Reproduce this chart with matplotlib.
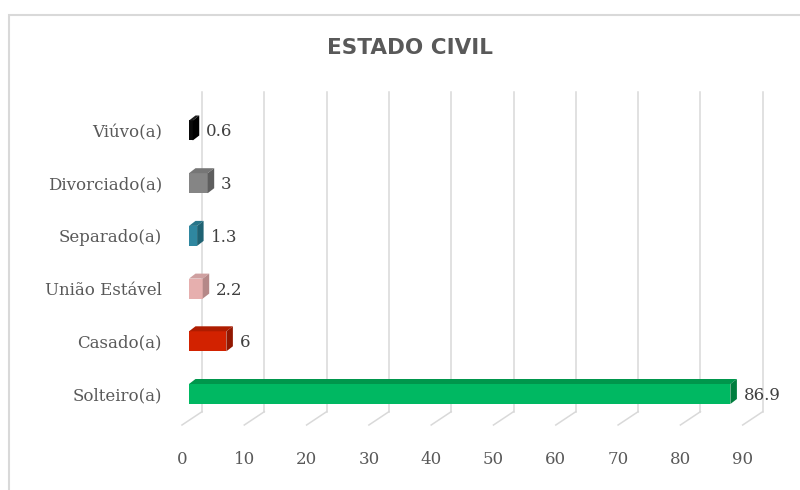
import matplotlib
matplotlib.use("Agg")
import matplotlib.pyplot as plt
from matplotlib.patches import Polygon, Rectangle

# ---- data ----
categories = ["Solteiro(a)", "Casado(a)", "União Estável", "Separado(a)", "Divorciado(a)", "Viúvo(a)"]
values = [86.9, 6, 2.2, 1.3, 3, 0.6]
value_labels = ["86.9", "6", "2.2", "1.3", "3", "0.6"]
front_colors = ["#00B862", "#D22200", "#E6AFAE", "#2F87A0", "#858585", "#0A0A0A"]
top_colors = ["#00964C", "#AE1C00", "#CFA0A0", "#287589", "#767676", "#1E1E1E"]
side_colors = ["#007E3E", "#921700", "#B58888", "#1F6273", "#5E5E5E", "#000000"]
xticks = [0, 10, 20, 30, 40, 50, 60, 70, 80, 90]
title = "ESTADO CIVIL"

# ---- layout (pixels) ----
DPI = 100
W, H = 800, 490
PPU = 6.23          # pixels per unit on x
X0 = 189            # bar front plane, x = 0
SP = 52.7           # category spacing
Y0 = H - 394        # centre of first category (from bottom)
AX_B = H - 425      # floor front edge
AX_T = H - 92       # top of wall gridlines
WALL_B = H - 411.7  # bottom of back wall
XMAX = 95

fig = plt.figure(figsize=(W / DPI, H / DPI), dpi=DPI)
fig.patch.set_facecolor("white")
ax = fig.add_axes([X0 / W, AX_B / H, XMAX * PPU / W, (AX_T - AX_B) / H])
ax.set_xlim(0, XMAX)
ax.set_ylim((AX_B - Y0) / SP, (AX_T - Y0) / SP)
for s in ax.spines.values():
    s.set_visible(False)
ax.set_facecolor("none")

def ydata(p):
    return (p - Y0) / SP

WALL_DX = 13 / PPU     # wall is 13 px right of bar front plane
FLOOR_DX = -7 / PPU    # floor front edge 7 px left of bar front plane
DX = 6.5 / PPU         # bar depth in x
DY = 5.0 / SP          # bar depth in y
BH = 20 / SP           # bar front height

grid_c = "#D9D9D9"
for v in xticks:
    ax.plot([v + WALL_DX, v + WALL_DX], [ydata(WALL_B), ydata(AX_T)], color=grid_c, lw=1.1, zorder=1, clip_on=False)
    ax.plot([v + WALL_DX, v + FLOOR_DX], [ydata(WALL_B), ydata(AX_B)], color=grid_c, lw=1.1, zorder=1, clip_on=False)
    ax.text(v + FLOOR_DX, ydata(H - 459), str(v), ha="center", va="center",
            fontsize=12, color="#595959", family="DejaVu Serif")

ypos = list(range(len(categories)))
ax.barh(ypos, values, height=BH, left=0, color=front_colors, zorder=3)
for i, v in enumerate(values):
    t = i + BH / 2
    b = i - BH / 2
    ax.add_patch(Polygon([(0, t), (v, t), (v + DX, t + DY), (DX, t + DY)], closed=True,
                         facecolor=top_colors[i], edgecolor="none", zorder=3))
    ax.add_patch(Polygon([(v, b), (v + DX, b + DY), (v + DX, t + DY), (v, t)], closed=True,
                         facecolor=side_colors[i], edgecolor="none", zorder=3))
    ax.text(v + DX + 7 / PPU, i - 1.5 / SP, value_labels[i], ha="left", va="center",
            fontsize=12, color="#404040", family="DejaVu Serif", zorder=4)

ax.set_xticks([])
ax.set_yticks(ypos)
ax.set_yticklabels(categories, family="DejaVu Serif")
ax.tick_params(axis="y", length=0, pad=27 * 72 / DPI, labelsize=12, labelcolor="#595959")

fig.add_artist(Rectangle((9 / W, -0.1), 1.2, (H - 15) / H + 0.1, transform=fig.transFigure,
                         fill=False, edgecolor="#D9D9D9", lw=1.5))
fig.text(410 / W, 1 - 48 / H, title, ha="center", va="center", fontsize=15.5,
         fontweight="bold", color="#595959", family="DejaVu Sans")

fig.savefig("out.png", dpi=DPI, facecolor="white")
